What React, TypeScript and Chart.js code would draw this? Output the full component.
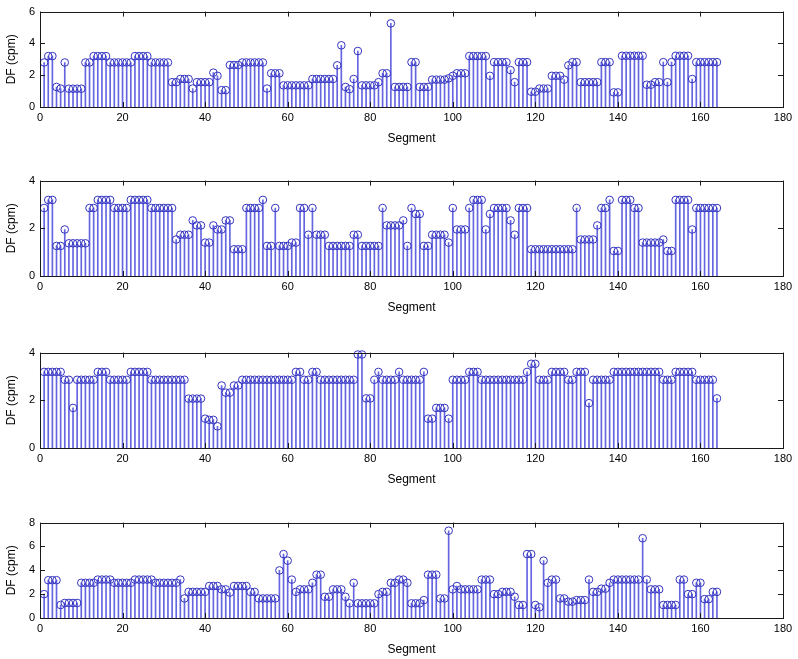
import { useEffect, useRef } from "react";
import { Chart, registerables } from "chart.js";

Chart.register(...registerables);

// segment index for every stem, 1..164
const SEGMENTS = Array.from({ length: 164 }, (_, i) => i + 1);
const X_TICKS = [0, 20, 40, 60, 80, 100, 120, 140, 160, 180];

const DF_1 = [
  2.8, 3.2, 3.2, 1.26, 1.16, 2.8, 1.15, 1.15, 1.15, 1.15,
  2.8, 2.8, 3.2, 3.2, 3.2, 3.2, 2.8, 2.8, 2.8, 2.8,
  2.8, 2.8, 3.2, 3.2, 3.2, 3.2, 2.8, 2.8, 2.8, 2.8,
  2.8, 1.56, 1.56, 1.76, 1.76, 1.76, 1.16, 1.56, 1.56, 1.56,
  1.56, 2.16, 1.96, 1.06, 1.06, 2.64, 2.64, 2.64, 2.8, 2.8,
  2.8, 2.8, 2.8, 2.8, 1.16, 2.12, 2.12, 2.12, 1.36, 1.36,
  1.36, 1.36, 1.36, 1.36, 1.36, 1.76, 1.76, 1.76, 1.76, 1.76,
  1.76, 2.62, 3.88, 1.26, 1.12, 1.76, 3.52, 1.36, 1.36, 1.36,
  1.36, 1.56, 2.12, 2.12, 5.26, 1.26, 1.26, 1.26, 1.26, 2.82,
  2.82, 1.26, 1.26, 1.26, 1.72, 1.72, 1.72, 1.72, 1.8, 1.96,
  2.12, 2.12, 2.12, 3.2, 3.2, 3.2, 3.2, 3.2, 1.96, 2.82,
  2.82, 2.82, 2.82, 2.32, 1.56, 2.82, 2.82, 2.82, 0.96, 0.96,
  1.16, 1.16, 1.16, 1.96, 1.96, 1.96, 1.72, 2.62, 2.82, 2.82,
  1.56, 1.56, 1.56, 1.56, 1.56, 2.82, 2.82, 2.82, 0.92, 0.92,
  3.22, 3.22, 3.22, 3.22, 3.22, 3.22, 1.4, 1.4, 1.56, 1.56,
  2.82, 1.56, 2.82, 3.22, 3.22, 3.22, 3.22, 1.76, 2.82, 2.82,
  2.82, 2.82, 2.82, 2.82,
];

const DF_2 = [
  2.85, 3.19, 3.19, 1.26, 1.26, 1.95, 1.37, 1.37, 1.37, 1.37,
  1.37, 2.85, 2.85, 3.19, 3.19, 3.19, 3.19, 2.85, 2.85, 2.85,
  2.85, 3.19, 3.19, 3.19, 3.19, 3.19, 2.85, 2.85, 2.85, 2.85,
  2.85, 2.85, 1.53, 1.73, 1.73, 1.73, 2.33, 2.12, 2.12, 1.4,
  1.4, 2.12, 1.95, 1.95, 2.33, 2.33, 1.12, 1.12, 1.12, 2.85,
  2.85, 2.85, 2.85, 3.19, 1.26, 1.26, 2.85, 1.26, 1.26, 1.26,
  1.4, 1.4, 2.85, 2.85, 1.73, 2.85, 1.73, 1.73, 1.73, 1.26,
  1.26, 1.26, 1.26, 1.26, 1.26, 1.73, 1.73, 1.26, 1.26, 1.26,
  1.26, 1.26, 2.85, 2.12, 2.12, 2.12, 2.12, 2.33, 1.26, 2.85,
  2.6, 2.6, 1.26, 1.26, 1.73, 1.73, 1.73, 1.73, 1.4, 2.85,
  1.95, 1.95, 1.95, 2.85, 3.19, 3.19, 3.19, 1.95, 2.6, 2.85,
  2.85, 2.85, 2.85, 2.33, 1.73, 2.85, 2.85, 2.85, 1.12, 1.12,
  1.12, 1.12, 1.12, 1.12, 1.12, 1.12, 1.12, 1.12, 1.12, 2.85,
  1.53, 1.53, 1.53, 1.53, 2.12, 2.85, 2.85, 3.19, 1.05, 1.05,
  3.19, 3.19, 3.19, 2.85, 2.85, 1.4, 1.4, 1.4, 1.4, 1.4,
  1.53, 1.05, 1.05, 3.19, 3.19, 3.19, 3.19, 1.95, 2.85, 2.85,
  2.85, 2.85, 2.85, 2.85,
];

const DF_3 = [
  3.19, 3.19, 3.19, 3.19, 3.19, 2.86, 2.86, 1.68, 2.86, 2.86,
  2.86, 2.86, 2.86, 3.19, 3.19, 3.19, 2.86, 2.86, 2.86, 2.86,
  2.86, 3.19, 3.19, 3.19, 3.19, 3.19, 2.86, 2.86, 2.86, 2.86,
  2.86, 2.86, 2.86, 2.86, 2.86, 2.07, 2.07, 2.07, 2.07, 1.23,
  1.18, 1.18, 0.91, 2.62, 2.32, 2.32, 2.62, 2.62, 2.86, 2.86,
  2.86, 2.86, 2.86, 2.86, 2.86, 2.86, 2.86, 2.86, 2.86, 2.86,
  2.86, 3.19, 3.19, 2.86, 2.86, 3.19, 3.19, 2.86, 2.86, 2.86,
  2.86, 2.86, 2.86, 2.86, 2.86, 2.86, 3.92, 3.92, 2.08, 2.08,
  2.86, 3.19, 2.86, 2.86, 2.86, 2.86, 3.19, 2.86, 2.86, 2.86,
  2.86, 2.86, 3.19, 1.23, 1.23, 1.68, 1.68, 1.68, 1.23, 2.86,
  2.86, 2.86, 2.86, 3.19, 3.19, 3.19, 2.86, 2.86, 2.86, 2.86,
  2.86, 2.86, 2.86, 2.86, 2.86, 2.86, 2.86, 3.19, 3.53, 3.53,
  2.86, 2.86, 2.86, 3.19, 3.19, 3.19, 3.19, 2.86, 2.86, 3.19,
  3.19, 3.19, 1.88, 2.86, 2.86, 2.86, 2.86, 2.86, 3.19, 3.19,
  3.19, 3.19, 3.19, 3.19, 3.19, 3.19, 3.19, 3.19, 3.19, 3.19,
  2.86, 2.86, 2.86, 3.19, 3.19, 3.19, 3.19, 3.19, 2.86, 2.86,
  2.86, 2.86, 2.86, 2.08,
];

const DF_4 = [
  2.0, 3.17, 3.17, 3.17, 1.09, 1.26, 1.26, 1.26, 1.26, 2.95,
  2.95, 2.95, 2.95, 3.22, 3.22, 3.22, 3.22, 2.95, 2.95, 2.95,
  2.95, 2.95, 3.22, 3.22, 3.22, 3.22, 3.22, 2.95, 2.95, 2.95,
  2.95, 2.95, 2.95, 3.22, 1.64, 2.19, 2.19, 2.19, 2.19, 2.19,
  2.68, 2.68, 2.68, 2.4, 2.4, 2.13, 2.68, 2.68, 2.68, 2.68,
  2.19, 2.19, 1.64, 1.64, 1.64, 1.64, 1.64, 3.99, 5.36, 4.81,
  3.22, 2.19, 2.4, 2.4, 2.4, 2.95, 3.63, 3.63, 1.78, 1.78,
  2.4, 2.4, 2.4, 1.78, 1.23, 2.95, 1.23, 1.23, 1.23, 1.23,
  1.23, 2.0, 2.19, 2.19, 2.95, 2.95, 3.22, 3.22, 2.95, 1.23,
  1.23, 1.23, 1.5, 3.63, 3.63, 3.63, 1.64, 1.64, 7.32, 2.4,
  2.68, 2.4, 2.4, 2.4, 2.4, 2.4, 3.22, 3.22, 3.22, 2.0,
  2.0, 2.19, 2.19, 2.19, 1.78, 1.09, 1.09, 5.36, 5.36, 1.09,
  0.9, 4.81, 2.95, 3.22, 3.22, 1.64, 1.64, 1.37, 1.37, 1.5,
  1.5, 1.5, 3.22, 2.19, 2.19, 2.46, 2.46, 2.95, 3.22, 3.22,
  3.22, 3.22, 3.22, 3.22, 3.22, 6.69, 3.22, 2.4, 2.4, 2.4,
  1.09, 1.09, 1.09, 1.09, 3.22, 3.22, 2.0, 2.0, 2.95, 2.95,
  1.58, 1.58, 2.19, 2.19,
];

const Y_MAX = [6, 4, 4, 8];
const PANEL_TOP = [0, 169, 341, 511];

const FONT = "'Liberation Sans', Arial, Helvetica, sans-serif";
const STEM = "rgba(50, 50, 215, 0.75)";
const MARKER = "#3434c0";
const AXIS = "#1a1a1a";

// MATLAB-like box with inward ticks on all four sides
const boxPlugin = {
  id: "matlabBox",
  afterDatasetsDraw(chart: any) {
    const { ctx, chartArea: a, scales } = chart;
    const len = 5;
    ctx.save();
    ctx.strokeStyle = AXIS;
    ctx.lineWidth = 1;
    ctx.strokeRect(Math.round(a.left) + 0.5, Math.round(a.top) + 0.5, Math.round(a.right - a.left), Math.round(a.bottom - a.top));
    ctx.beginPath();
    scales.x.ticks.forEach((t: any) => {
      const px = Math.round(scales.x.getPixelForValue(t.value)) + 0.5;
      ctx.moveTo(px, a.bottom);
      ctx.lineTo(px, a.bottom - len);
      ctx.moveTo(px, a.top);
      ctx.lineTo(px, a.top + len);
    });
    scales.y.ticks.forEach((t: any) => {
      const py = Math.round(scales.y.getPixelForValue(t.value)) + 0.5;
      ctx.moveTo(a.left, py);
      ctx.lineTo(a.left + len, py);
      ctx.moveTo(a.right, py);
      ctx.lineTo(a.right - len, py);
    });
    ctx.stroke();
    ctx.restore();
  },
};

function StemPanel({ values, yMax, top }: { values: number[]; yMax: number; top: number }) {
  const ref = useRef<HTMLCanvasElement>(null);
  useEffect(() => {
    const points = SEGMENTS.map((s, i) => ({ x: s, y: values[i] }));
    const chart = new Chart(ref.current!, {
      type: "bar",
      data: {
        datasets: [
          {
            type: "bar",
            data: points,
            backgroundColor: STEM,
            barThickness: 1,
            grouped: false,
            order: 2,
          } as any,
          {
            type: "scatter",
            data: points,
            pointStyle: "circle",
            pointRadius: 3.8,
            borderWidth: 1,
            borderColor: MARKER,
            backgroundColor: "rgba(0,0,0,0)",
            showLine: false,
            clip: false,
            order: 1,
          } as any,
        ],
      },
      options: {
        responsive: false,
        animation: false,
        layout: { padding: { top: 7, right: 15, left: 0, bottom: 0 } },
        plugins: { legend: { display: false }, tooltip: { enabled: false } },
        scales: {
          x: {
            type: "linear",
            min: 0,
            max: 180,
            offset: false,
            afterBuildTicks: (s: any) => {
              s.ticks = X_TICKS.map((v) => ({ value: v }));
            },
            afterFit: (s: any) => {
              s.height = 43;
            },
            grid: { display: false, drawTicks: false },
            border: { display: false },
            ticks: { color: "#000", padding: 4, maxRotation: 0, font: { family: FONT, size: 11 } },
            title: {
              display: true,
              text: "Segment",
              color: "#000",
              padding: { top: 0, bottom: 4 },
              font: { family: FONT, size: 12 },
            },
          },
          y: {
            min: 0,
            max: yMax,
            afterFit: (s: any) => {
              s.width = 40;
            },
            grid: { display: false, drawTicks: false },
            border: { display: false },
            ticks: { stepSize: 2, color: "#000", padding: 5, font: { family: FONT, size: 11 } },
            title: {
              display: true,
              text: "DF (cpm)",
              color: "#000",
              padding: { top: 4, bottom: 0 },
              font: { family: FONT, size: 12 },
            },
          },
        },
      } as any,
      plugins: [boxPlugin],
    });
    return () => chart.destroy();
  }, [values, yMax]);
  return (
    <canvas
      ref={ref}
      width={798}
      height={150}
      style={{ position: "absolute", left: 0, top, width: 798, height: 150 }}
    />
  );
}

export default function App() {
  const series = [DF_1, DF_2, DF_3, DF_4];
  return (
    <div style={{ position: "fixed", left: 0, top: 0, width: 798, height: 659, background: "#fff", overflow: "hidden" }}>
      {series.map((v, i) => (
        <StemPanel key={i} values={v} yMax={Y_MAX[i]} top={PANEL_TOP[i]} />
      ))}
    </div>
  );
}
